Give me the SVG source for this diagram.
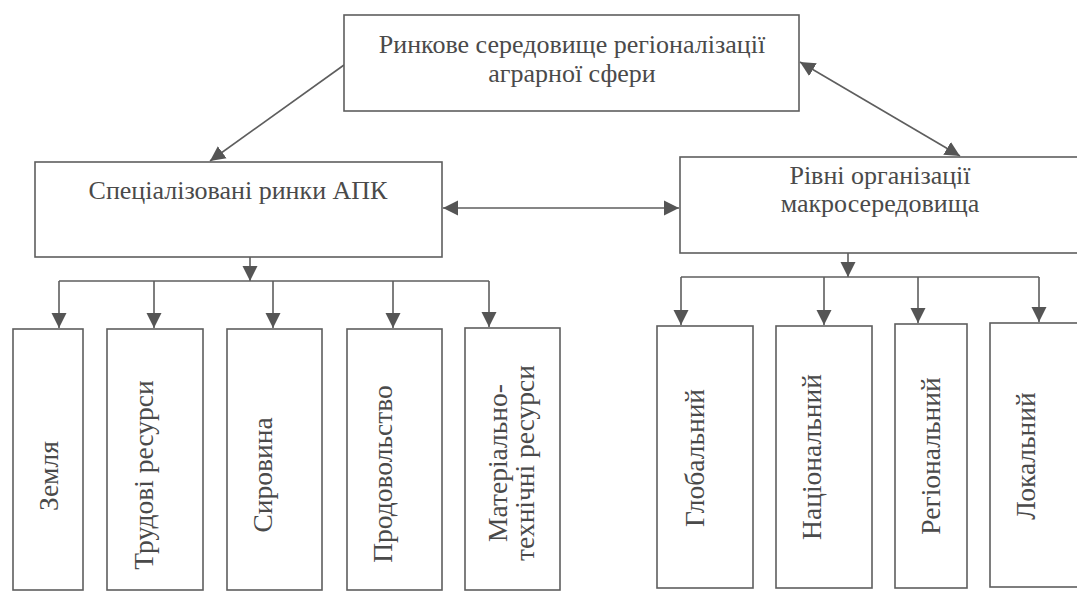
<svg xmlns="http://www.w3.org/2000/svg" width="1077" height="591" viewBox="0 0 1077 591">
<style>
  .box { fill: #ffffff; stroke: #5e5e5e; stroke-width: 1.6; }
  .lbl { font-family: "Liberation Serif", "Times New Roman", serif; font-size: 26px; fill: #4a4a4a; text-anchor: middle; }
  .vl { font-family: "Liberation Serif", "Times New Roman", serif; font-size: 27.5px; fill: #4a4a4a; text-anchor: middle; }
  .ln { fill: none; stroke: #5e5e5e; stroke-width: 1.6; }
  .arr { fill: none; stroke: #5e5e5e; stroke-width: 1.6; marker-end: url(#ah); }
  .arr2 { fill: none; stroke: #5e5e5e; stroke-width: 1.6; marker-end: url(#ah); marker-start: url(#ah); }
</style>
<defs>
  <marker id="ah" markerUnits="userSpaceOnUse" markerWidth="16" markerHeight="16" refX="15" refY="8" orient="auto-start-reverse" viewBox="0 0 16 16">
    <path d="M0,0.5 L15,8 L0,15.5 z" fill="#555555"/>
  </marker>
</defs>
<rect width="1077" height="591" fill="#ffffff"/>

<g id="connectors">
  <line class="arr" x1="344" y1="65" x2="210" y2="161"/>
  <line class="arr2" x1="800" y1="62" x2="960" y2="156"/>
  <line class="arr2" x1="443" y1="208" x2="679" y2="208"/>
  <line class="arr" x1="250" y1="257" x2="250" y2="281"/>
  <polyline class="ln" points="59,281 489,281"/>
  <line class="arr" x1="59" y1="281" x2="59" y2="328"/>
  <line class="arr" x1="154" y1="281" x2="154" y2="328"/>
  <line class="arr" x1="273" y1="281" x2="273" y2="328"/>
  <line class="arr" x1="393" y1="281" x2="393" y2="328"/>
  <line class="arr" x1="489" y1="281" x2="489" y2="327"/>
  <line class="arr" x1="848" y1="253" x2="848" y2="277"/>
  <polyline class="ln" points="681,277 1039,277"/>
  <line class="arr" x1="681" y1="277" x2="681" y2="325"/>
  <line class="arr" x1="824" y1="277" x2="824" y2="325"/>
  <line class="arr" x1="918" y1="277" x2="918" y2="323"/>
  <line class="arr" x1="1039" y1="277" x2="1039" y2="322"/>
</g>

<g id="n-top">
  <rect class="box" x="344" y="15" width="455" height="96"/>
  <text class="lbl" x="572" y="53">Ринкове середовище регіоналізації</text>
  <text class="lbl" x="572" y="82">аграрної сфери</text>
</g>
<g id="n-spec">
  <rect class="box" x="35" y="162" width="407" height="95"/>
  <text class="lbl" x="238" y="199">Спеціалізовані ринки АПК</text>
</g>
<g id="n-levels">
  <rect class="box" x="680" y="157" width="402" height="96"/>
  <text class="lbl" x="880" y="184">Рівні організації</text>
  <text class="lbl" x="880" y="212">макросередовища</text>
</g>

<g id="n-zemlia">
  <rect class="box" x="13" y="329" width="70" height="261"/>
  <text class="vl" transform="translate(58,476) rotate(-90)">Земля</text>
</g>
<g id="n-trud">
  <rect class="box" x="107" y="329" width="96" height="261"/>
  <text class="vl" transform="translate(153,475) rotate(-90)">Трудові ресурси</text>
</g>
<g id="n-syr">
  <rect class="box" x="227" y="329" width="95" height="261"/>
  <text class="vl" transform="translate(272,475) rotate(-90)">Сировина</text>
</g>
<g id="n-prod">
  <rect class="box" x="347" y="329" width="95" height="261"/>
  <text class="vl" transform="translate(392,474) rotate(-90)">Продовольство</text>
</g>
<g id="n-mat">
  <rect class="box" x="465" y="328" width="95" height="262"/>
  <text class="vl" transform="translate(507,463) rotate(-90)">Матеріально-</text>
  <text class="vl" transform="translate(534,463) rotate(-90)">технічні ресурси</text>
</g>

<g id="n-glob">
  <rect class="box" x="657" y="326" width="96" height="262"/>
  <text class="vl" transform="translate(704,458) rotate(-90)">Глобальний</text>
</g>
<g id="n-nat">
  <rect class="box" x="776" y="326" width="96" height="262"/>
  <text class="vl" transform="translate(821,457) rotate(-90)">Національний</text>
</g>
<g id="n-reg">
  <rect class="box" x="895" y="324" width="72" height="264"/>
  <text class="vl" transform="translate(940,456) rotate(-90)">Регіональний</text>
</g>
<g id="n-loc">
  <rect class="box" x="990" y="323" width="92" height="264"/>
  <text class="vl" transform="translate(1035,456) rotate(-90)">Локальний</text>
</g>
</svg>
